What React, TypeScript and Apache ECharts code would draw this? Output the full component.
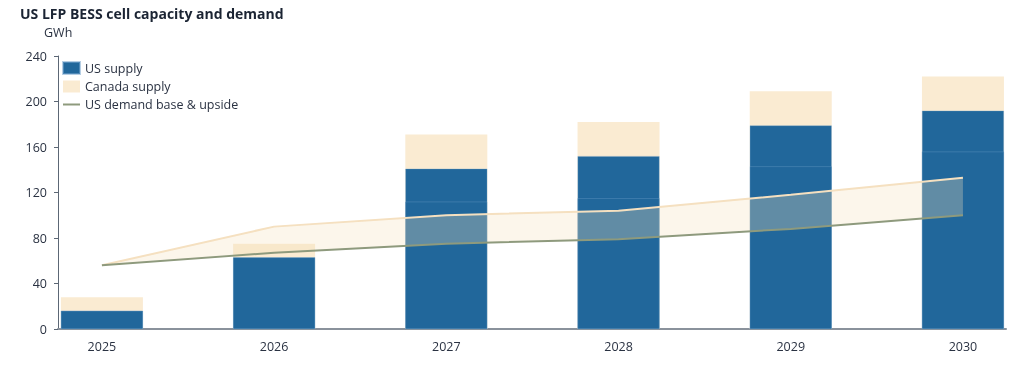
import React, { useEffect, useRef } from "react";
import * as echarts from "echarts";

const years = [2025, 2026, 2027, 2028, 2029, 2030];
const usSupplyBase = [16, 63, 112, 115, 143, 156];
const usSupplyAdded = [0, 0, 29, 37, 36, 36];
const canadaSupply = [12, 12, 30, 30, 30, 30];
const demandBase = [56, 67, 75, 79, 88, 100];
const demandUpside = [56, 90, 100, 104, 118, 133];

const FONT = "Open Sans";

export default function App() {
  const ref = useRef<HTMLDivElement>(null);
  useEffect(() => {
    if (!ref.current) return;
    const chart = echarts.init(ref.current, undefined, { renderer: "svg" });
    const pair = (arr: number[]) => years.map((y, i) => [y, arr[i]]);
    const usTotal = usSupplyBase.map((v, i) => v + usSupplyAdded[i]);
    const allTotal = usTotal.map((v, i) => v + canadaSupply[i]);
    const usBorder = { borderColor: "rgba(120,165,205,0.55)", borderWidth: 0.6 };
    const bandRows = years.map((y, i) => [y, demandBase[i], demandUpside[i]]);
    chart.setOption({
      animation: false,
      textStyle: { fontFamily: FONT },
      title: [
        {
          text: "US LFP BESS cell capacity and demand",
          left: 15,
          top: 1,
          textStyle: { fontFamily: FONT, fontSize: 14, fontWeight: "bold", color: "#1b2433" },
        },
        {
          text: "GWh",
          left: 39,
          top: 21,
          textStyle: { fontFamily: FONT, fontSize: 12.5, fontWeight: "normal", color: "#2a3242" },
        },
      ],
      legend: {
        orient: "vertical",
        left: 57,
        top: 56,
        itemWidth: 17,
        itemHeight: 12,
        itemGap: 5,
        data: [
          { name: "US supply", icon: "rect" },
          { name: "Canada supply", icon: "rect" },
          {
            name: "US demand base & upside",
            itemStyle: { color: "rgba(0,0,0,0)", borderWidth: 0 },
          },
        ],
        textStyle: { fontFamily: FONT, fontSize: 12.5, lineHeight: 12, color: "#2a3242" },
      },
      grid: { left: 58, right: 18, top: 56, bottom: 60 },
      xAxis: {
        type: "value",
        min: 2024.745,
        max: 2030.25,
        axisLine: { show: true, lineStyle: { color: "#8a929c", width: 2 } },
        axisTick: { show: false },
        splitLine: { show: false },
        axisLabel: {
          customValues: years,
          margin: 11,
          fontSize: 12.5,
          color: "#2a3242",
          formatter: (v: number) => String(Math.round(v)),
        },
      },
      yAxis: {
        type: "value",
        min: 0,
        max: 240,
        interval: 40,
        axisLine: { show: true, lineStyle: { color: "#5c6775", width: 1 } },
        axisTick: { show: true, length: 4, lineStyle: { color: "#5c6775" } },
        splitLine: { show: false },
        axisLabel: { margin: 11, fontSize: 12.5, color: "#2a3242" },
      },
      series: [
        {
          name: "Canada supply",
          type: "bar",
          barWidth: 82,
          barGap: "-100%",
          data: pair(allTotal),
          itemStyle: { color: "#faebd2" },
        },
        {
          name: "US supply",
          type: "bar",
          barWidth: 82,
          barGap: "-100%",
          data: pair(usTotal),
          itemStyle: { color: "#21679b", ...usBorder },
        },
        {
          name: "US supply",
          type: "bar",
          barWidth: 82,
          barGap: "-100%",
          data: pair(usSupplyBase),
          itemStyle: { color: "#21679b", ...usBorder },
        },
        {
          name: "band",
          type: "custom",
          data: bandRows,
          encode: { x: 0, y: [1, 2] },
          z: 3,
          renderItem: (params: any, api: any) => {
            if (params.dataIndex !== 0) return null;
            const upper = bandRows.map((r) => api.coord([r[0], r[2]]));
            const lower = bandRows.map((r) => api.coord([r[0], r[1]])).reverse();
            return {
              type: "polygon",
              shape: { points: upper.concat(lower) },
              style: { fill: "rgba(245,225,190,0.3)", stroke: "none" },
            };
          },
        },
        {
          name: "upside",
          type: "line",
          symbol: "none",
          data: pair(demandUpside),
          lineStyle: { color: "#f5e0c0", width: 2 },
          itemStyle: { color: "#f5e0c0" },
          z: 4,
        },
        {
          name: "US demand base & upside",
          type: "line",
          symbol: "none",
          data: pair(demandBase),
          lineStyle: { color: "#8e9a7d", width: 2 },
          itemStyle: { color: "#8e9a7d" },
          z: 5,
        },
      ],
    });
    return () => chart.dispose();
  }, []);
  return (
    <div
      ref={ref}
      style={{ position: "fixed", left: 0, top: 0, width: 1024, height: 389 }}
    />
  );
}
